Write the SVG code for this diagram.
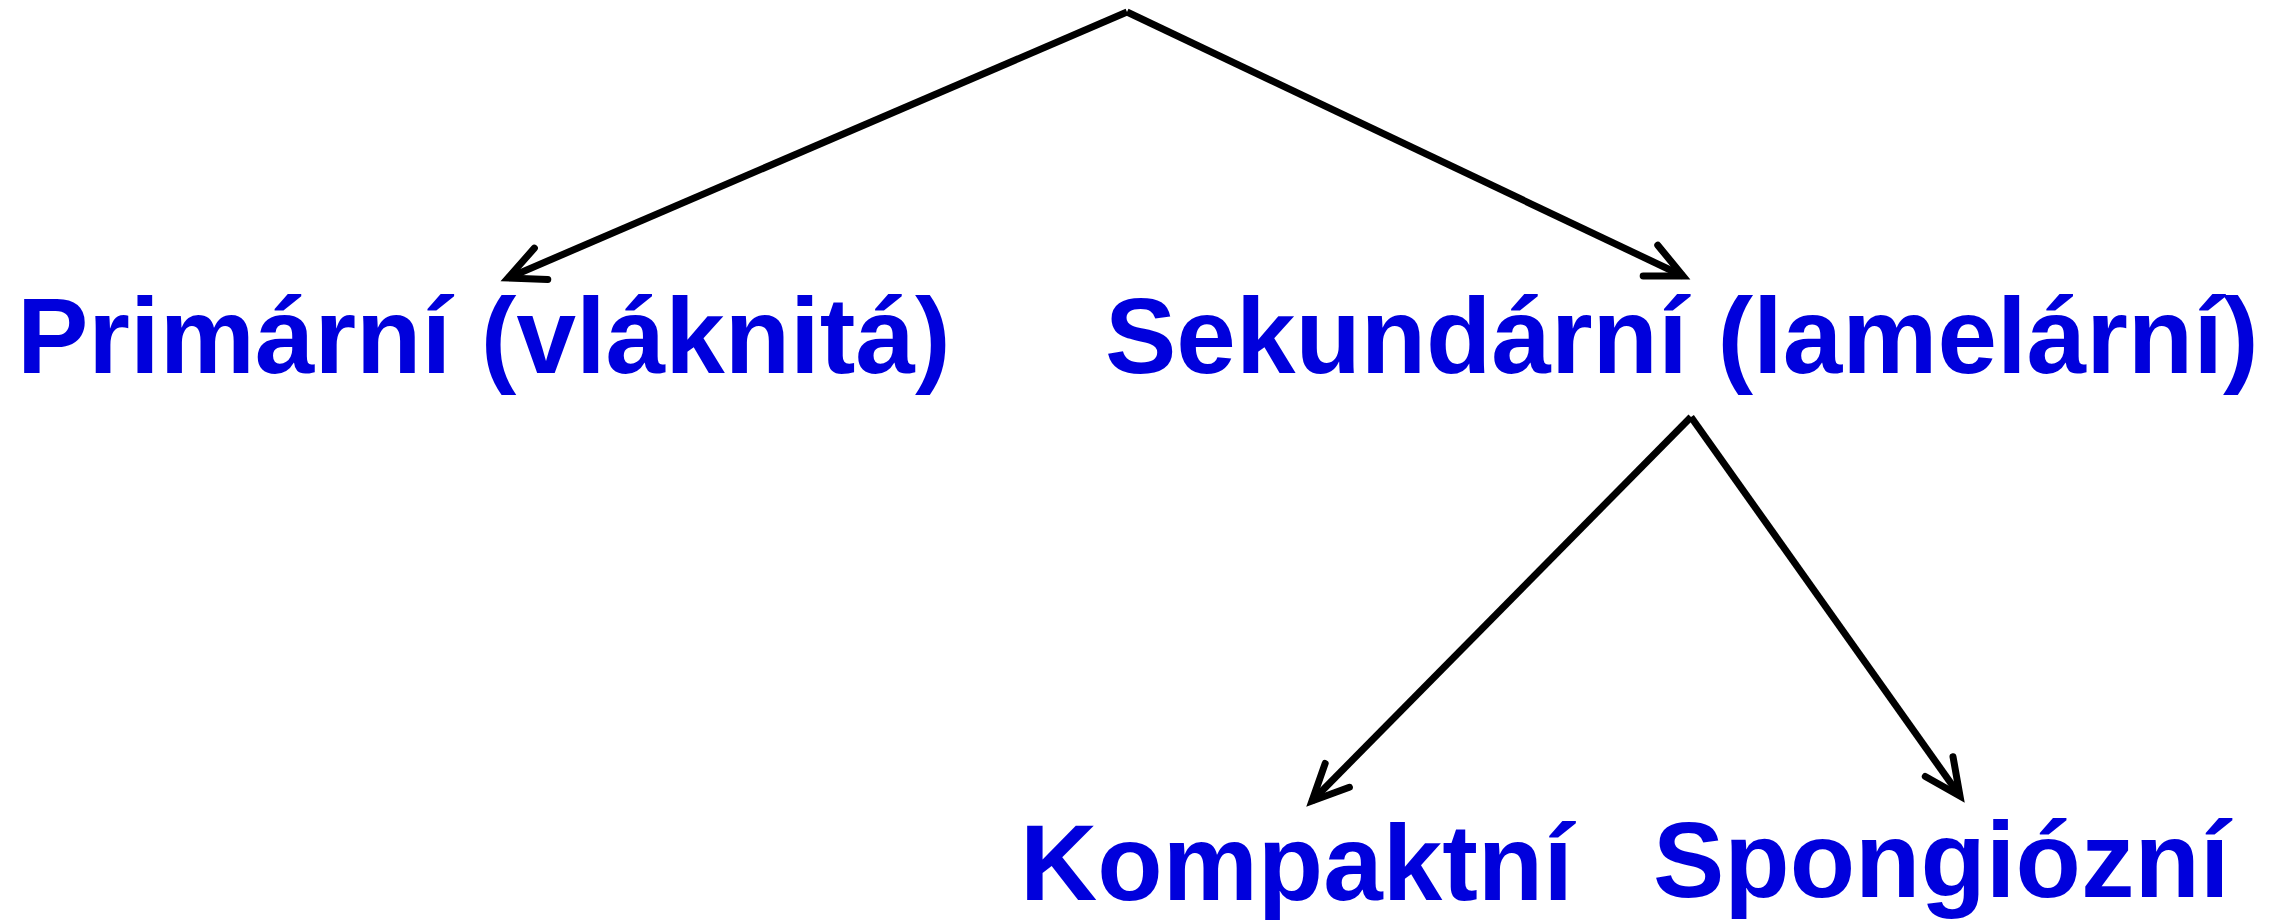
<svg xmlns="http://www.w3.org/2000/svg" width="2283" height="920" viewBox="0 0 2283 920">
<style>
.lbl{font-family:"Liberation Sans",Arial,sans-serif;font-weight:bold;font-size:107px;fill:#0000dc}
.con{stroke:#000;stroke-width:7;fill:none;stroke-linecap:butt}
</style>
<defs>
<marker id="ah" markerUnits="userSpaceOnUse" orient="auto" refX="0" refY="0" markerWidth="100" markerHeight="100" viewBox="-60 -50 100 100" overflow="visible">
<path d="M-36,-17 L0,0 L-36,17" fill="none" stroke="#000" stroke-width="7" stroke-linecap="round" stroke-linejoin="miter" stroke-miterlimit="10"/>
</marker>
</defs>
<rect width="2283" height="920" fill="#fff"/>
<g id="connectors">
<line class="con" x1="1127" y1="12" x2="508" y2="278" marker-end="url(#ah)"/>
<line class="con" x1="1127" y1="12" x2="1683" y2="276" marker-end="url(#ah)"/>
<line class="con" x1="1691" y1="417" x2="1312" y2="801" marker-end="url(#ah)"/>
<line class="con" x1="1691" y1="417" x2="1960" y2="796" marker-end="url(#ah)"/>
</g>
<g id="primarni"><text class="lbl" x="17" y="373">Primární (vláknitá)</text></g>
<g id="sekundarni"><text class="lbl" x="1105" y="373">Sekundární (lamelární)</text></g>
<g id="kompaktni"><text class="lbl" x="1020" y="900">Kompaktní</text></g>
<g id="spongiozni"><text class="lbl" x="1653" y="897">Spongiózní</text></g>
</svg>
